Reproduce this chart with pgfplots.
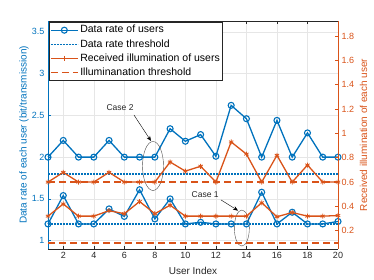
\documentclass[border=0pt]{standalone}
\usepackage{pgfplots}
\pgfplotsset{compat=1.18}
\usetikzlibrary{arrows.meta}
\usepackage{fontspec}
\setmainfont{Liberation Sans}
\definecolor{mblue}{RGB}{0,114,189}
\definecolor{morange}{RGB}{217,83,25}
\definecolor{mgray}{RGB}{38,38,38}
\definecolor{gridc}{RGB}{230,230,230}

\pgfplotstableread{
x y
1 2.0
2 2.2
3 2.0
4 2.0
5 2.2
6 2.0
7 2.0
8 2.0
9 2.34
10 2.19
11 2.27
12 2.01
13 2.62
14 2.46
15 2.0
16 2.44
17 2.0
18 2.29
19 2.0
20 2.0
}\rateHigh
\pgfplotstableread{
x y
1 1.2
2 1.54
3 1.2
4 1.2
5 1.38
6 1.29
7 1.61
8 1.26
9 1.5
10 1.2
11 1.22
12 1.2
13 1.2
14 1.2
15 1.58
16 1.2
17 1.34
18 1.2
19 1.2
20 1.23
}\rateLow
\pgfplotstableread{
x y
1 0.6
2 0.68
3 0.6
4 0.6
5 0.68
6 0.6
7 0.6
8 0.6
9 0.765
10 0.69
11 0.73
12 0.6
13 0.93
14 0.83
15 0.6
16 0.82
17 0.6
18 0.74
19 0.6
20 0.6
}\illumHigh
\pgfplotstableread{
x y
1 0.32
2 0.42
3 0.32
4 0.32
5 0.365
6 0.34
7 0.44
8 0.34
9 0.41
10 0.32
11 0.32
12 0.32
13 0.32
14 0.32
15 0.43
16 0.315
17 0.35
18 0.32
19 0.32
20 0.325
}\illumLow

\begin{document}
\begin{tikzpicture}
\useasboundingbox (-48pt,-31pt) rectangle (326pt,249pt);
\begin{axis}[
  scale only axis, width=290pt, height=228pt,
  at={(0pt,0pt)}, anchor=south west,
  xmin=1, xmax=20, ymin=0.9, ymax=3.63,
  xtick={2,4,6,8,10,12,14,16,18,20},
  xticklabels={2,4,6,8,10,12,14,16,18,20},
  ytick={1,1.5,2,2.5,3,3.5},
  yticklabels={1,1.5,2,2.5,3,3.5},
  axis x line*=box, axis y line*=left,
  xtick pos=both, ytick pos=left,
  tick align=inside, major tick length=3pt,
  x axis line style={mgray, line width=0.5pt},
  y axis line style={mblue, line width=0.5pt},
  xtick style={mgray, line width=0.5pt},
  ytick style={mblue, line width=0.5pt},
  xticklabel style={mgray},
  yticklabel style={mblue},
  tick label style={font=\fontsize{9}{10}\selectfont},
  grid=major, grid style={gridc, line width=0.5pt},
  xlabel={User Index},
  ylabel={Data rate of each user (bit/transmission)},
  label style={font=\fontsize{10}{12}\selectfont},
  xlabel style={mgray, at={(axis description cs:0.5,-0.096)}, anchor=center},
  ylabel style={mblue, at={(axis description cs:-0.083,0.5)}, anchor=center},
  clip=false,
]
\addplot[mblue, dash pattern=on 1.8pt off 1.2pt, line width=1.4pt] coordinates {(1,1.2) (20,1.2)};
\addplot[mblue, dash pattern=on 1.8pt off 1.2pt, line width=1.4pt] coordinates {(1,1.8) (20,1.8)};
\addplot[mblue, line width=1.3pt, mark=o, mark size=3pt, mark options={solid, line width=1.1pt}] table[x=x,y=y] {\rateHigh};
\addplot[mblue, line width=1.3pt, mark=o, mark size=3pt, mark options={solid, line width=1.1pt}] table[x=x,y=y] {\rateLow};
% annotations
\draw[black!70, line width=0.4pt] (axis cs:7.88,1.894) ellipse [x radius=10.5pt, y radius=24.5pt];
\draw[black!70, line width=0.4pt] (axis cs:13.70,1.151) ellipse [x radius=7.5pt, y radius=18pt];
\node[font=\fontsize{8.5}{10}\selectfont, text=mgray] at (axis cs:5.72,2.589) {Case 2};
\draw[-{Stealth[length=5pt,width=4pt]}, black, line width=0.4pt] (axis cs:6.63,2.505) -- (axis cs:7.75,2.193);
\node[font=\fontsize{8.5}{10}\selectfont, text=mgray] at (axis cs:11.30,1.547) {Case 1};
\draw[-{Stealth[length=5pt,width=4pt]}, black, line width=0.4pt] (axis cs:12.33,1.488) -- (axis cs:13.45,1.360);
\end{axis}
\begin{axis}[
  scale only axis, width=290pt, height=228pt,
  at={(0pt,0pt)}, anchor=south west,
  xmin=1, xmax=20, ymin=0.05, ymax=1.924,
  axis x line=none, axis y line*=right,
  ytick={0.2,0.4,0.6,0.8,1,1.2,1.4,1.6,1.8},
  yticklabels={0.2,0.4,0.6,0.8,1,1.2,1.4,1.6,1.8},
  ytick pos=right,
  tick align=inside, major tick length=3pt,
  y axis line style={morange, line width=0.5pt},
  ytick style={morange, line width=0.5pt},
  yticklabel style={morange},
  tick label style={font=\fontsize{9}{10}\selectfont},
  ylabel={Received illumination of each user},
  label style={font=\fontsize{10}{12}\selectfont},
  ylabel style={morange, at={(axis description cs:1.088,0.5)}, anchor=center},
  clip=false,
  legend style={at={(axis description cs:0.003,0.996)}, anchor=north west,
    draw=mgray, line width=0.5pt, fill=white, font=\fontsize{10.5}{12}\selectfont,
    inner xsep=1pt, inner ysep=1pt,
    nodes={text height=8pt, text depth=2.5pt, inner sep=1.8pt}},
  legend cell align=left,
  legend image code/.code={\draw[mark repeat=2, mark phase=2] plot coordinates {(0pt,0pt) (13.5pt,0pt) (27pt,0pt)};},
]
\addlegendimage{mblue, line width=1.3pt, mark=o, mark size=3pt, mark options={solid, line width=1.1pt}}
\addlegendentry{Data rate of users}
\addlegendimage{mblue, dash pattern=on 1.8pt off 1.2pt, line width=1.4pt}
\addlegendentry{Data rate threshold}
\addlegendimage{morange, line width=1.3pt, mark=+, mark size=2.5pt, mark options={solid, line width=0.8pt}}
\addlegendentry{Received illumination of users}
\addlegendimage{morange, dash pattern=on 7pt off 4pt, line width=1.2pt}
\addlegendentry{Illuminanation threshold}
\addplot[morange, dash pattern=on 7pt off 4pt, line width=1.2pt, forget plot] coordinates {(1,0.1) (20,0.1)};
\addplot[morange, dash pattern=on 7pt off 4pt, line width=1.2pt, forget plot] coordinates {(1,0.6) (20,0.6)};
\addplot[morange, line width=1.3pt, mark=asterisk, mark size=2.5pt, mark options={solid, line width=0.8pt}, forget plot] table[x=x,y=y] {\illumHigh};
\addplot[morange, line width=1.3pt, mark=asterisk, mark size=2.5pt, mark options={solid, line width=0.8pt}, forget plot] table[x=x,y=y] {\illumLow};
\end{axis}
\end{tikzpicture}
\end{document}
